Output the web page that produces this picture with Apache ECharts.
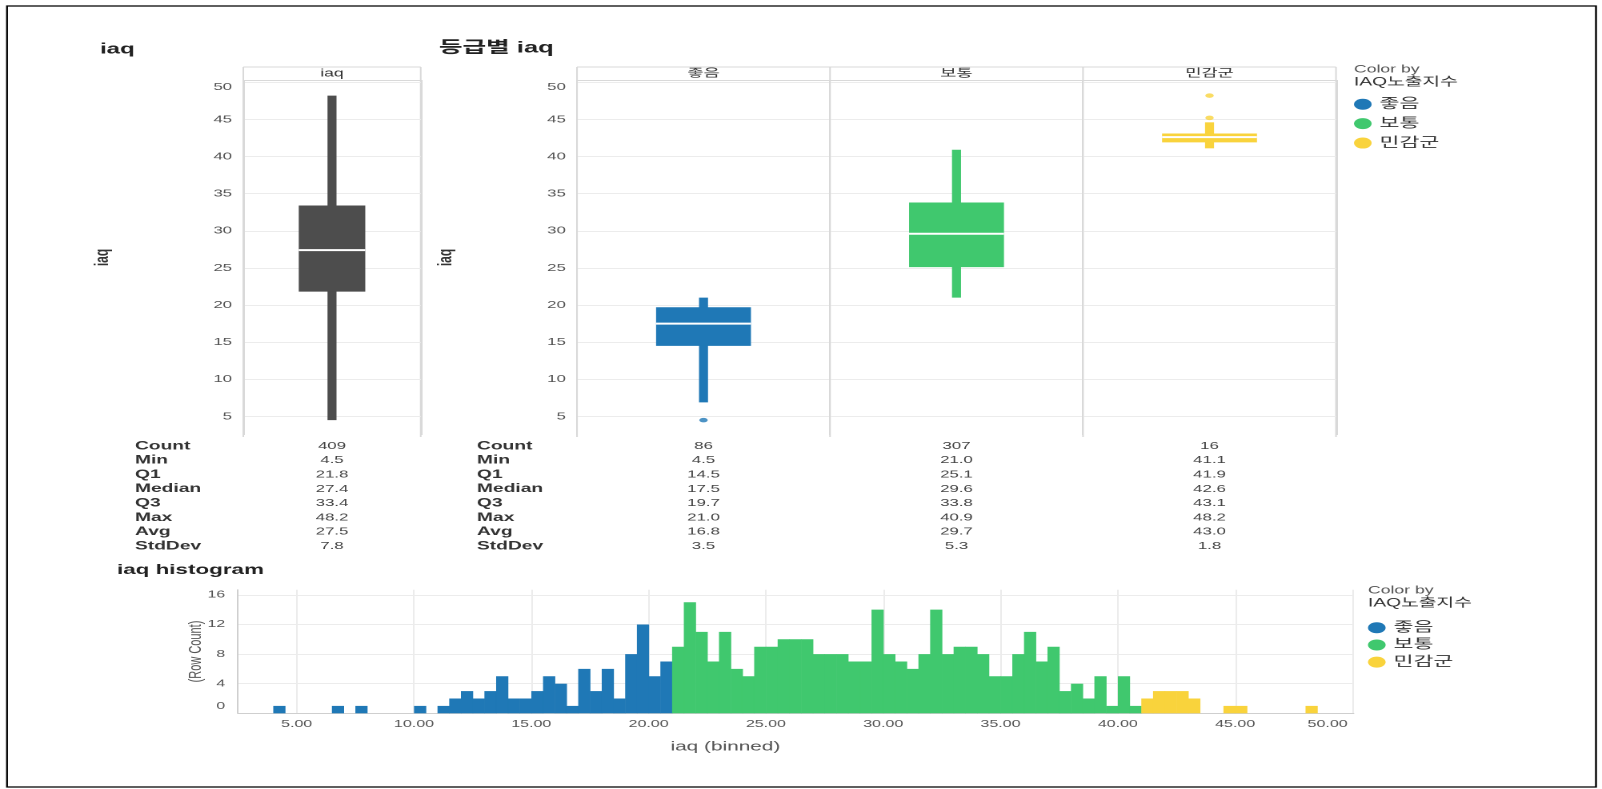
<!DOCTYPE html>
<html><head><meta charset="utf-8">
<script src="https://cdn.jsdelivr.net/npm/echarts@6/dist/echarts.min.js"></script>
<style>
html,body{margin:0;padding:0;background:#fff;overflow:hidden}
#c{width:1001px;height:789px;transform:scaleX(1.6003996);transform-origin:0 0}
</style>
</head><body><div id="c"></div>
<script>
// ---------- data ----------
const grades = ['좋음', '보통', '민감군'];
const gradeColors = ['#1f78b6', '#40c86e', '#f9d33c'];
const overallCategory = ['iaq'];
const overallColor = '#4d4d4d';
// box: [lower whisker, Q1, median, Q3, upper whisker]
const overallBox = [4.5, 21.8, 27.4, 33.4, 48.2];
const goodBox = [6.9, 14.5, 17.5, 19.7, 21.0];
const moderateBox = [21.0, 25.1, 29.6, 33.8, 40.9];
const sensitiveBox = [41.1, 41.9, 42.6, 43.1, 44.6];
const goodOutliers = [4.5];
const moderateOutliers = [];
const sensitiveOutliers = [45.2, 48.2];

const statLabels = ['Count', 'Min', 'Q1', 'Median', 'Q3', 'Max', 'Avg', 'StdDev'];
const overallStats = ['409', '4.5', '21.8', '27.4', '33.4', '48.2', '27.5', '7.8'];
const goodStats = ['86', '4.5', '14.5', '17.5', '19.7', '21.0', '16.8', '3.5'];
const moderateStats = ['307', '21.0', '25.1', '29.6', '33.8', '40.9', '29.7', '5.3'];
const sensitiveStats = ['16', '41.1', '41.9', '42.6', '43.1', '48.2', '43.0', '1.8'];

const BIN_WIDTH = 0.5;
const goodBinStart = [4.0, 6.5, 7.5, 10.0, 11.0, 11.5, 12.0, 12.5, 13.0, 13.5, 14.0, 14.5, 15.0, 15.5, 16.0, 16.5, 17.0, 17.5, 18.0, 18.5, 19.0, 19.5, 20.0, 20.5];
const goodBinCount = [1, 1, 1, 1, 1, 2, 3, 2, 3, 5, 2, 2, 3, 5, 4, 1, 6, 3, 6, 2, 8, 12, 5, 7];
const moderateBinStart = [21.0, 21.5, 22.0, 22.5, 23.0, 23.5, 24.0, 24.5, 25.0, 25.5, 26.0, 26.5, 27.0, 27.5, 28.0, 28.5, 29.0, 29.5, 30.0, 30.5, 31.0, 31.5, 32.0, 32.5, 33.0, 33.5, 34.0, 34.5, 35.0, 35.5, 36.0, 36.5, 37.0, 37.5, 38.0, 38.5, 39.0, 39.5, 40.0, 40.5];
const moderateBinCount = [9, 15, 11, 7, 11, 6, 5, 9, 9, 10, 10, 10, 8, 8, 8, 7, 7, 14, 8, 7, 6, 8, 14, 8, 9, 9, 8, 5, 5, 8, 11, 7, 9, 3, 4, 2, 5, 1, 5, 1];
const sensitiveBinStart = [41.0, 41.5, 42.0, 42.5, 43.0, 44.5, 45.0, 48.0];
const sensitiveBinCount = [2, 3, 3, 3, 2, 1, 1, 1];

// ---------- layout ----------
const S = 1602 / 1001;          // horizontal stretch of the reference
const X = px => px / S;         // full-picture x -> canvas x
const FONT = "'Liberation Sans', Arial, 'Noto Sans CJK KR', sans-serif";
const GRID_LINE = '#d9d9d9';
const LP = {left: X(243.3), right: X(420.7), top: 80, bottom: 435};
const MP = {left: X(577), right: X(1336), top: 80, bottom: 435};
const HP = {left: X(238.05), right: X(1353.6), top: 589.7, bottom: 713.3};
const HEADER_TOP = 67;

function boxItem(colorFn) {
  return function (params, api) {
    const c = api.value(0);
    const pLo = api.coord([c, api.value(1)]);
    const pQ1 = api.coord([c, api.value(2)]);
    const pMed = api.coord([c, api.value(3)]);
    const pQ3 = api.coord([c, api.value(4)]);
    const pHi = api.coord([c, api.value(5)]);
    const band = api.size([1, 0])[0];
    const boxW = band * 0.375;
    const whW = X(9);
    const cx = pLo[0];
    const color = colorFn(params.dataIndex);
    return {type: 'group', children: [
      {type: 'rect', shape: {x: cx - whW / 2, y: pHi[1], width: whW, height: pLo[1] - pHi[1]}, style: {fill: color}},
      {type: 'rect', shape: {x: cx - boxW / 2, y: pQ3[1], width: boxW, height: pQ1[1] - pQ3[1]}, style: {fill: color}},
      {type: 'rect', shape: {x: cx - boxW / 2, y: pMed[1] - 1, width: boxW, height: 2}, style: {fill: '#ffffff'}}
    ]};
  };
}

function histItem(params, api) {
  const s = api.value(0), n = api.value(1);
  const a = api.coord([s, 0]);
  const b = api.coord([s + BIN_WIDTH, n]);
  return {type: 'rect', shape: {x: a[0], y: b[1], width: b[0] - a[0] + 0.3, height: a[1] - b[1]},
          style: {fill: api.visual('color')}};
}

const mult = (v, k) => Math.abs(v / k - Math.round(v / k)) < 1e-6;

function boxYAxis(gridIndex, nameGap) {
  return {
    type: 'value', gridIndex, min: 2.5, max: 50.3, interval: 2.5,
    name: 'iaq', nameLocation: 'middle', nameGap, nameMoveOverlap: false,
    nameTextStyle: {fontSize: 12, fontWeight: 'bold', color: '#333', fontFamily: FONT},
    axisLine: {show: false}, axisTick: {show: false},
    axisLabel: {
      margin: 7, fontSize: 10.5, color: '#555', fontFamily: FONT,
      formatter: v => !mult(v, 5) ? '' : (v >= 50 ? '{t|' + v + '}' : String(v)),
      rich: {t: {padding: [10, 0, 0, 0], fontSize: 10.5, color: '#555', fontFamily: FONT}}
    },
    splitLine: {show: true, showMaxLine: false, lineStyle: {color: ['rgba(0,0,0,0)', '#ececec'], width: 1}}
  };
}

function boxXAxis(gridIndex, data) {
  return {
    type: 'category', gridIndex, data, position: 'top', boundaryGap: true,
    axisLine: {show: true, lineStyle: {color: GRID_LINE}}, axisTick: {show: false},
    axisLabel: {margin: 1, fontSize: 11, color: '#333', fontFamily: FONT},
    splitLine: {show: true, lineStyle: {color: GRID_LINE}}
  };
}

// ---------- graphics: frame, header strips, stats table ----------
const graphics = [];
graphics.push({type: 'rect', shape: {x: X(7), y: 6, width: X(1596) - X(7), height: 781},
  style: {fill: 'none', stroke: '#000', lineWidth: 1.2}, silent: true});
function headerStrip(p, n) {
  graphics.push({type: 'line', shape: {x1: p.left, y1: HEADER_TOP, x2: p.right, y2: HEADER_TOP},
    style: {stroke: GRID_LINE, lineWidth: 1}, silent: true});
  for (let k = 0; k <= n; k++) {
    const x = p.left + (p.right - p.left) * k / n;
    graphics.push({type: 'line', shape: {x1: x, y1: HEADER_TOP, x2: x, y2: p.bottom + 2},
      style: {stroke: GRID_LINE, lineWidth: 1}, silent: true});
  }
}
headerStrip(LP, overallCategory.length);
headerStrip(MP, grades.length);

function statTable(labelX, p, columns) {
  statLabels.forEach((lab, i) => {
    const y = 446 + i * 14.3;
    graphics.push({type: 'text', x: labelX, y, silent: true,
      style: {text: lab, fontSize: 12, fontWeight: 'bold', fontFamily: FONT, fill: '#333', align: 'left', verticalAlign: 'middle'}});
    columns.forEach((col, k) => {
      const cx = p.left + (p.right - p.left) * (k + 0.5) / columns.length;
      graphics.push({type: 'text', x: cx, y, silent: true,
        style: {text: col[i], fontSize: 10.5, fontFamily: FONT, fill: '#444', align: 'center', verticalAlign: 'middle'}});
    });
  });
}
statTable(X(135), LP, [overallStats]);
statTable(X(477), MP, [goodStats, moderateStats, sensitiveStats]);

// ---------- option ----------
const ELL = 'circle';
const titleStyle = {fontSize: 15, fontWeight: 'bold', color: '#222', fontFamily: FONT};
const option = {
  animation: false,
  backgroundColor: '#ffffff',
  title: [
    {text: 'iaq', left: X(100), top: 42, padding: 0, textStyle: titleStyle},
    {text: '등급별 iaq', left: X(439), top: 40, padding: 0, textStyle: Object.assign({}, titleStyle, {fontSize: 16})},
    {text: 'iaq histogram', left: X(117), top: 563, padding: 0, textStyle: Object.assign({}, titleStyle, {fontSize: 14})},
    {text: 'Color by', left: X(1354), top: 64, padding: 0, textStyle: {fontSize: 11, fontWeight: 'normal', color: '#555', fontFamily: FONT}},
    {text: 'IAQ노출지수', left: X(1354), top: 76, padding: 0, textStyle: {fontSize: 12, fontWeight: 'normal', color: '#333', fontFamily: FONT}},
    {text: 'Color by', left: X(1368), top: 585, padding: 0, textStyle: {fontSize: 11, fontWeight: 'normal', color: '#555', fontFamily: FONT}},
    {text: 'IAQ노출지수', left: X(1368), top: 597, padding: 0, textStyle: {fontSize: 12, fontWeight: 'normal', color: '#333', fontFamily: FONT}}
  ],
  legend: [
    {data: grades, orient: 'vertical', left: X(1354), top: 97.5, padding: 0, itemWidth: 11, itemHeight: 11, itemGap: 5.9,
     icon: ELL, selectedMode: false, textStyle: {fontSize: 13.5, color: '#333', fontFamily: FONT}},
    {data: grades, orient: 'vertical', left: X(1368), top: 621, padding: 0, itemWidth: 11, itemHeight: 11, itemGap: 3.7,
     icon: ELL, selectedMode: false, textStyle: {fontSize: 13.5, color: '#333', fontFamily: FONT}}
  ],
  grid: [
    {left: LP.left, top: LP.top, width: LP.right - LP.left, height: LP.bottom - LP.top, containLabel: false, outerBoundsMode: 'none'},
    {left: MP.left, top: MP.top, width: MP.right - MP.left, height: MP.bottom - MP.top, containLabel: false, outerBoundsMode: 'none'},
    {left: HP.left, top: HP.top, width: HP.right - HP.left, height: HP.bottom - HP.top, containLabel: false, outerBoundsMode: 'none'}
  ],
  xAxis: [
    boxXAxis(0, overallCategory),
    boxXAxis(1, grades),
    {
      type: 'value', gridIndex: 2, min: 2.5, max: 50.05, interval: 2.5,
      name: 'iaq (binned)', nameLocation: 'middle', nameGap: 27, nameMoveOverlap: false,
      nameTextStyle: {fontSize: 13, color: '#555', fontFamily: FONT, padding: [0, 88, 0, 0]},
      axisLine: {show: true, lineStyle: {color: '#cfcfcf'}}, axisTick: {show: false},
      axisLabel: {
        margin: 6, fontSize: 10, color: '#555', fontFamily: FONT,
        formatter: v => !mult(v, 5) ? '' : (v >= 50 ? '{r|' + v.toFixed(2) + '}' : v.toFixed(2)),
        rich: {r: {padding: [0, 31, 0, 0], fontSize: 10, color: '#555', fontFamily: FONT}}
      },
      splitLine: {show: true, showMaxLine: false, lineStyle: {color: ['rgba(0,0,0,0)', '#ececec']}}
    }
  ],
  yAxis: [
    boxYAxis(0, 82),
    boxYAxis(1, 76),
    {
      type: 'value', gridIndex: 2, min: 0, max: 16.7, interval: 4,
      name: '(Row Count)', nameLocation: 'middle', nameGap: 21, nameMoveOverlap: false,
      nameTextStyle: {fontSize: 11, color: '#555', fontFamily: FONT},
      axisLine: {show: true, lineStyle: {color: '#cfcfcf'}}, axisTick: {show: false},
      axisLabel: {
        margin: 8, fontSize: 10, color: '#555', fontFamily: FONT,
        formatter: v => !mult(v, 4) ? '' : (v === 0 ? '{z|0}' : String(v)),
        rich: {z: {padding: [0, 0, 14, 0], fontSize: 10, color: '#555', fontFamily: FONT}}
      },
      splitLine: {show: true, showMaxLine: false, lineStyle: {color: '#ececec'}}
    }
  ],
  series: [
    {type: 'custom', name: 'overallBox', xAxisIndex: 0, yAxisIndex: 0, silent: true,
     data: [[0].concat(overallBox)], encode: {x: 0, y: [1, 2, 3, 4, 5]},
     renderItem: boxItem(() => overallColor)},
    {type: 'custom', name: 'gradeBox', xAxisIndex: 1, yAxisIndex: 1, silent: true,
     data: [[0].concat(goodBox), [1].concat(moderateBox), [2].concat(sensitiveBox)], encode: {x: 0, y: [1, 2, 3, 4, 5]},
     renderItem: boxItem(i => gradeColors[i])},
    {type: 'scatter', name: 'outliers', xAxisIndex: 1, yAxisIndex: 1, silent: true, symbol: 'circle', symbolSize: [5.2, 4.5],
     data: goodOutliers.map(v => [0, v]).concat(moderateOutliers.map(v => [1, v]), sensitiveOutliers.map(v => [2, v])),
     itemStyle: {color: p => gradeColors[p.value[0]]}},
    {type: 'custom', name: grades[0], xAxisIndex: 2, yAxisIndex: 2, itemStyle: {color: gradeColors[0]},
     data: goodBinStart.map((s, i) => [s, goodBinCount[i]]), encode: {x: 0, y: 1}, renderItem: histItem},
    {type: 'custom', name: grades[1], xAxisIndex: 2, yAxisIndex: 2, itemStyle: {color: gradeColors[1]},
     data: moderateBinStart.map((s, i) => [s, moderateBinCount[i]]), encode: {x: 0, y: 1}, renderItem: histItem},
    {type: 'custom', name: grades[2], xAxisIndex: 2, yAxisIndex: 2, itemStyle: {color: gradeColors[2]},
     data: sensitiveBinStart.map((s, i) => [s, sensitiveBinCount[i]]), encode: {x: 0, y: 1}, renderItem: histItem}
  ],
  graphic: graphics
};

const chart = echarts.init(document.getElementById('c'), null, {renderer: 'canvas', devicePixelRatio: 2});
chart.setOption(option);
</script>
</body></html>
